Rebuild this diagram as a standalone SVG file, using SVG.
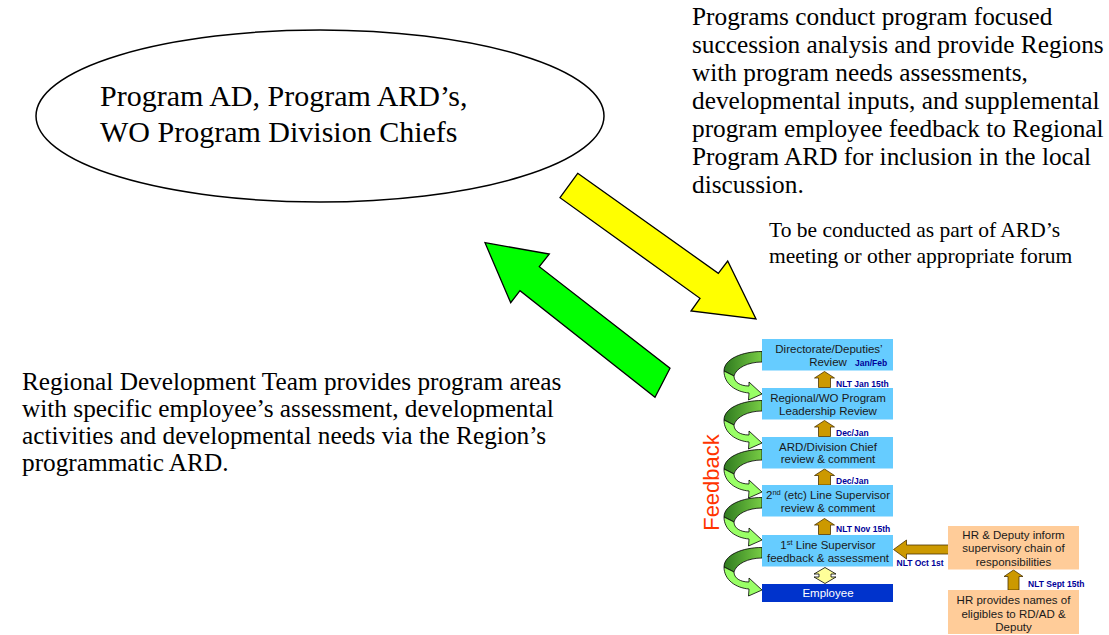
<svg xmlns="http://www.w3.org/2000/svg" width="1109" height="635" viewBox="0 0 1109 635">
<style>
.serif{font-family:"Liberation Serif","Times New Roman",serif;fill:#000}
.big{font-size:25.3px}
.ell{font-size:30px}
.small{font-size:21.5px}
.box{fill:#66CCFF}
.hr{fill:#FFCC99}
.bt{font-family:"Liberation Sans",Arial,sans-serif;font-size:11.5px;fill:#1a1a1a;text-anchor:middle}
.lbl{font-family:"Liberation Sans",Arial,sans-serif;font-size:8.5px;font-weight:bold;fill:#000099}
.gold{fill:#CC9900;stroke:#4d3300;stroke-width:0.8}
.sw-back{fill:url(#gback);stroke:#000;stroke-width:0.8}
.sw-front{fill:#99FF66;stroke:#000;stroke-width:0.8}
</style>
<defs>
<linearGradient id="gback" x1="0" y1="0" x2="1" y2="0">
<stop offset="0" stop-color="#2f7a1f"/>
<stop offset="1" stop-color="#77cc44"/>
</linearGradient>
<g id="swirl">
<path class="sw-back" d="M762,12.5 C742,12.5 724,20 724,32 L734,37 C736,29 748,23 762,23 Z"/>
<path class="sw-front" d="M724,32 C724,45 736,53 749,54 L748.5,61 L762,55 L749,43 L749,47 C740,47 734,43 734,37 Z"/>
</g>
<path id="up" class="gold" d="M0,0 L10,6.5 L6,6.5 L6,16 L-6,16 L-6,6.5 L-10,6.5 Z"/>
</defs>

<g id="node-program-ad">
<ellipse cx="320" cy="116" rx="284" ry="86" fill="#fff" stroke="#000" stroke-width="1.5"/>
<text class="serif ell" x="100" y="106">Program AD, Program ARD’s,</text>
<text class="serif ell" x="100" y="142">WO Program Division Chiefs</text>
</g>

<g id="node-programs-text">
<text class="serif big" x="692">
<tspan x="692" y="25">Programs conduct program focused</tspan>
<tspan x="692" y="53">succession analysis and provide Regions</tspan>
<tspan x="692" y="81">with program needs assessments,</tspan>
<tspan x="692" y="109">developmental inputs, and supplemental</tspan>
<tspan x="692" y="137">program employee feedback to Regional</tspan>
<tspan x="692" y="165">Program ARD for inclusion in the local</tspan>
<tspan x="692" y="193">discussion.</tspan>
</text>
</g>

<g id="node-conducted-text">
<text class="serif small" x="769">
<tspan x="769" y="237">To be conducted as part of ARD’s</tspan>
<tspan x="769" y="263">meeting or other appropriate forum</tspan>
</text>
</g>

<g id="node-regional-text">
<text class="serif big" x="22">
<tspan x="22" y="390">Regional Development Team provides program areas</tspan>
<tspan x="22" y="417">with specific employee’s assessment, developmental</tspan>
<tspan x="22" y="444">activities and developmental needs via the Region’s</tspan>
<tspan x="22" y="471">programmatic ARD.</tspan>
</text>
</g>

<g id="connectors">
<polygon fill="#FFFF00" stroke="#000" stroke-width="1.3" points="577.7,173.3 718.3,273.3 727.7,261 756,319 691,311 700,298.3 560,197.7"/>
<polygon fill="#00FF00" stroke="#000" stroke-width="1.3" points="485,242.7 549.3,254 539.3,266.7 670,368.3 655,397.3 520,290.7 510.7,302.7"/>
<use href="#swirl" transform="translate(0,339)"/>
<use href="#swirl" transform="translate(0,388)"/>
<use href="#swirl" transform="translate(0,437)"/>
<use href="#swirl" transform="translate(0,485)"/>
<use href="#swirl" transform="translate(0,535)"/>
<use href="#up" transform="translate(824.5,371.5)"/>
<use href="#up" transform="translate(824.5,420.5)"/>
<use href="#up" transform="translate(824.5,469)"/>
<use href="#up" transform="translate(824.5,518.5)"/>
<path fill="#FFFF99" stroke="#000" stroke-width="0.8" d="M825,567.5 L836,574 L831,574 L831,577 L836,577 L825,583.5 L814,577 L819,577 L819,574 L814,574 Z"/>
<path class="gold" d="M893.5,549.5 L906.5,540 L906.5,545 L948.5,545 L948.5,554 L906.5,554 L906.5,559 Z"/>
<path class="gold" d="M1013.5,570 L1023,576.5 L1019,576.5 L1019,590 L1008,590 L1008,576.5 L1004,576.5 Z"/>
<text class="lbl" x="836" y="386.5">NLT Jan 15th</text>
<text class="lbl" x="836" y="435.5">Dec/Jan</text>
<text class="lbl" x="836" y="484">Dec/Jan</text>
<text class="lbl" x="836" y="532">NLT Nov 15th</text>
<text class="lbl" x="896.5" y="566">NLT Oct 1st</text>
<text class="lbl" x="1028" y="587">NLT Sept 15th</text>
</g>

<g id="node-feedback">
<text x="0" y="0" transform="translate(719,482.5) rotate(-90)" font-family="Liberation Sans,Arial,sans-serif" font-size="22" fill="#FF3300" text-anchor="middle">Feedback</text>
</g>

<g id="node-directorate">
<rect class="box" x="762" y="339" width="131" height="31.5"/>
<text class="bt" x="829" y="353">Directorate/Deputies’</text>
<text class="bt" x="828" y="365.5">Review</text>
<text class="lbl" x="855" y="365.5" font-size="9">Jan/Feb</text>
</g>
<g id="node-regional-review">
<rect class="box" x="762" y="388" width="131" height="31.5"/>
<text class="bt" x="828" y="402">Regional/WO Program</text>
<text class="bt" x="828" y="414.5">Leadership Review</text>
</g>
<g id="node-ard-review">
<rect class="box" x="762" y="437" width="131" height="31.5"/>
<text class="bt" x="828" y="450.5">ARD/Division Chief</text>
<text class="bt" x="828" y="463">review &amp; comment</text>
</g>
<g id="node-2nd-line">
<rect class="box" x="762" y="485" width="131" height="31.5"/>
<text class="bt" x="828" y="499">2<tspan font-size="7.5" dy="-4">nd</tspan><tspan dy="4"> (etc) Line Supervisor</tspan></text>
<text class="bt" x="828" y="511.5">review &amp; comment</text>
</g>
<g id="node-1st-line">
<rect class="box" x="762" y="535" width="131" height="31.5"/>
<text class="bt" x="828" y="548.5">1<tspan font-size="7.5" dy="-4">st</tspan><tspan dy="4"> Line Supervisor</tspan></text>
<text class="bt" x="828" y="561.5">feedback &amp; assessment</text>
</g>
<g id="node-employee">
<rect x="762" y="584" width="131" height="18" fill="#0033CC"/>
<text class="bt" x="828" y="597" style="fill:#fff">Employee</text>
</g>
<g id="node-hr-inform">
<rect class="hr" x="948" y="526" width="131" height="43.5"/>
<text class="bt" x="1013.5" y="539">HR &amp; Deputy inform</text>
<text class="bt" x="1013.5" y="552">supervisory chain of</text>
<text class="bt" x="1013.5" y="565.5">responsibilities</text>
</g>
<g id="node-hr-provides">
<rect class="hr" x="948" y="590" width="131" height="44"/>
<text class="bt" x="1013.5" y="604">HR provides names of</text>
<text class="bt" x="1013.5" y="617.5">eligibles to RD/AD &amp;</text>
<text class="bt" x="1013.5" y="631">Deputy</text>
</g>
</svg>
